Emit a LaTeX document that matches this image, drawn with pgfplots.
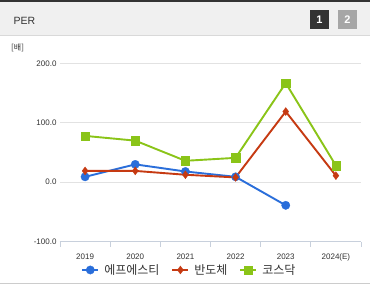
\documentclass[border=0pt]{standalone}
\usepackage{pgfplots}
\pgfplotsset{compat=1.18}
\usepackage{fontspec}
\setmainfont{Liberation Sans}
\newfontfamily\kr{Noto Sans CJK KR}
\definecolor{cblue}{RGB}{42,110,218}
\definecolor{cred}{RGB}{198,58,18}
\definecolor{cgreen}{RGB}{138,196,24}
\definecolor{gridc}{RGB}{226,226,226}
\definecolor{axc}{RGB}{200,208,220}
\definecolor{txt}{RGB}{51,51,51}
\begin{document}
\begin{tikzpicture}
\useasboundingbox (0,0) rectangle (370pt,285pt);
\fill[white] (0,0) rectangle (370pt,285pt);
\fill[black!6] (0,250pt) rectangle (370pt,283pt);
\fill[black!80] (0,283pt) rectangle (370pt,285pt);
\draw[black!15] (0,250pt) -- (370pt,250pt);
\node[anchor=west, font=\fontsize{10.5}{12}\selectfont, text=txt] at (10pt,264pt) {PER};
\fill[black!80] (310pt,256pt) rectangle (329pt,275pt);
\node[white, font=\bfseries\fontsize{11}{12}\selectfont] at (319.5pt,265.5pt) {1};
\fill[black!35] (338pt,256pt) rectangle (357pt,275pt);
\node[white, font=\bfseries\fontsize{11}{12}\selectfont] at (347.5pt,265.5pt) {2};
\node[font=\kr\fontsize{8}{9}\selectfont, text=txt, anchor=west, inner sep=0pt] at (11pt,237pt) {[배]};
\draw[black!20] (0,1.5pt) -- (370pt,1.5pt);
\begin{axis}[
  at={(60pt,43.5pt)}, anchor=south west, scale only axis,
  width=301pt, height=178pt,
  xmin=-0.5, xmax=5.5, ymin=-100, ymax=200,
  xtick={0,...,5}, xticklabels={2019,2020,2021,2022,2023,2024(E)},
  minor xtick={-0.5,0.5,...,5.5},
  ytick={-100,0,100,200},
  axis x line*=bottom, axis y line*=left,
  y axis line style={draw=none},
  x axis line style={axc, line width=0.8pt, -},
  ytick style={draw=none},
  major x tick style={draw=none},
  minor x tick style={axc, line width=0.8pt},
  xtick align=outside, minor tick length=5pt, major tick length=5pt,
  ymajorgrids, grid style={gridc, line width=0.7pt},
  tick label style={font=\fontsize{8}{9}\selectfont, text=txt},
  xticklabel style={yshift=-4pt},
  yticklabel style={/pgf/number format/.cd, fixed, fixed zerofill, precision=1, assume math mode=true},
  legend columns=3,
  legend style={draw=none, fill=none, at={(0.43,-0.16)}, anchor=center,
    font=\kr\fontsize{12}{14}\selectfont, text=txt,
    /tikz/every odd column/.append style={column sep=3pt},
    /tikz/every even column/.append style={column sep=10pt}},
  legend image code/.code={\draw[mark repeat=2,mark phase=2] plot coordinates {(0pt,0pt) (8pt,0pt) (16pt,0pt)};},
]
\addplot[cblue, line width=1.9pt, mark=*, mark size=4.2pt, mark options={solid, line width=0.3pt}] coordinates {(0,9)(1,30)(2,18)(3,9)(4,-39)};
\addlegendentry{에프에스티}
\addplot[cred, line width=1.9pt, mark=diamond*, mark size=4pt, mark options={solid, line width=0.3pt}] coordinates {(0,19)(1,19)(2,12.5)(3,8)(4,119)(5,11)};
\addlegendentry{반도체}
\addplot[cgreen, line width=1.9pt, mark=square*, mark size=4.2pt, mark options={solid, line width=0.3pt}] coordinates {(0,78)(1,70)(2,36)(3,41)(4,167)(5,28)};
\addlegendentry{코스닥}
\end{axis}
\end{tikzpicture}
\end{document}
